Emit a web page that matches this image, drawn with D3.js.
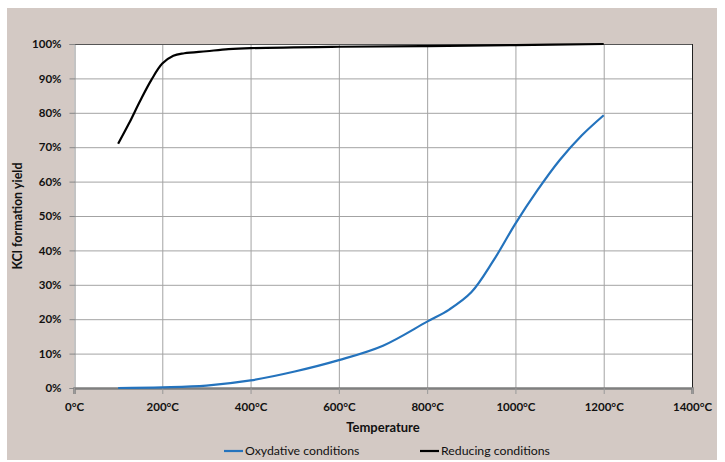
<!DOCTYPE html>
<html><head><meta charset="utf-8">
<script src="https://cdn.jsdelivr.net/npm/d3@7"></script>
<style>body{margin:0;background:#fff}svg{display:block}text{font-family:Lato,"Open Sans",sans-serif}</style>
</head><body><svg id="c" width="725" height="462"></svg>
<script>
const xTicks = [0,200,400,600,800,1000,1200,1400];
const yTicks = [0,10,20,30,40,50,60,70,80,90,100];
const oxTemp = [100,200,300,400,500,600,700,800,850,900,950,1000,1050,1100,1150,1200];
const oxYield = [0,0.2,0.7,2.2,4.8,8.1,12.3,19.3,22.8,27.8,37,47.8,57.5,66.2,73.4,79.3];
const redTemp = [100,125,150,175,200,225,250,300,350,400,600,800,1000,1200];
const redYield = [71,77,83.5,89.5,94.3,96.6,97.3,97.9,98.5,98.8,99.2,99.4,99.7,100];
const seriesNames = ["Oxydative conditions","Reducing conditions"];
const seriesColors = ["#2473bd","#000000"];

const svg = d3.select("#c");
svg.append("rect").attr("x",7).attr("y",8).attr("width",710).attr("height",452).attr("fill","#d3c9c4");
const L=74,R=692,T=44,B=388;
const x = d3.scaleLinear().domain([0,1400]).range([L,R]);
const y = d3.scaleLinear().domain([0,100]).range([B,T]);
svg.append("rect").attr("x",L).attr("y",T).attr("width",R-L).attr("height",B-T).attr("fill","#fff");
const g = svg.append("g");
g.selectAll(".vg").data(xTicks.slice(1,-1)).join("line").attr("x1",d=>x(d)+0.5).attr("x2",d=>x(d)+0.5).attr("y1",T).attr("y2",B).attr("stroke","#a3a3a3");
g.selectAll(".hg").data(yTicks.slice(1)).join("line").attr("x1",L).attr("x2",R).attr("y1",d=>y(d)+0.5).attr("y2",d=>y(d)+0.5).attr("stroke","#a3a3a3");
svg.append("line").attr("x1",L).attr("x2",R).attr("y1",T+0.5).attr("y2",T+0.5).attr("stroke","#555");
svg.append("line").attr("x1",R+0.5).attr("x2",R+0.5).attr("y1",T).attr("y2",B).attr("stroke","#222");
const yAxis = d3.axisLeft(y).tickValues(yTicks).tickSize(5).tickPadding(8).tickFormat(d=>d+"%");
const ya = svg.append("g").attr("transform",`translate(${L+0.5},0)`).call(yAxis);
ya.select(".domain").attr("stroke","#888");
ya.selectAll(".tick line").attr("stroke","#888");
ya.selectAll("text").attr("font-size",11.5).attr("font-weight","bold").attr("fill","#111").attr("font-family","Lato");
const xAxis = d3.axisBottom(x).tickValues(xTicks).tickSize(6).tickPadding(9).tickFormat(d=>d+"°C");
const xa = svg.append("g").attr("transform",`translate(0,${B})`).call(xAxis);
xa.select(".domain").attr("stroke","#7f7f7f").attr("stroke-width",2.5);
xa.selectAll(".tick line").attr("stroke","#999");
xa.selectAll("text").attr("font-size",11.5).attr("font-weight","bold").attr("fill","#111").attr("font-family","Lato");

const line = d3.line().x(d=>x(d[0])).y(d=>y(d[1])).curve(d3.curveCatmullRom.alpha(0.5));
const ox = oxTemp.map((t,i)=>[t,oxYield[i]]);
const red = redTemp.map((t,i)=>[t,redYield[i]]);
svg.append("path").attr("d",line(ox)).attr("fill","none").attr("stroke",seriesColors[0]).attr("stroke-width",2.2);
svg.append("path").attr("d",line(red)).attr("fill","none").attr("stroke",seriesColors[1]).attr("stroke-width",2.2);

svg.append("text").attr("x",383).attr("y",432).attr("text-anchor","middle").attr("font-size",13).attr("font-weight","bold").attr("fill","#111").text("Temperature");
svg.append("text").attr("transform","translate(22,216) rotate(-90)").attr("text-anchor","middle").attr("font-size",12.5).attr("font-weight","bold").attr("fill","#111").text("KCl formation yield");

const leg = [[224,245],[420,441]];
seriesNames.forEach((n,i)=>{
  svg.append("line").attr("x1",leg[i][0]).attr("x2",leg[i][0]+19).attr("y1",451).attr("y2",451).attr("stroke",seriesColors[i]).attr("stroke-width",2.2);
  svg.append("text").attr("x",leg[i][1]).attr("y",455).attr("font-size",12.3).attr("fill","#111").text(n);
});
</script></body></html>
